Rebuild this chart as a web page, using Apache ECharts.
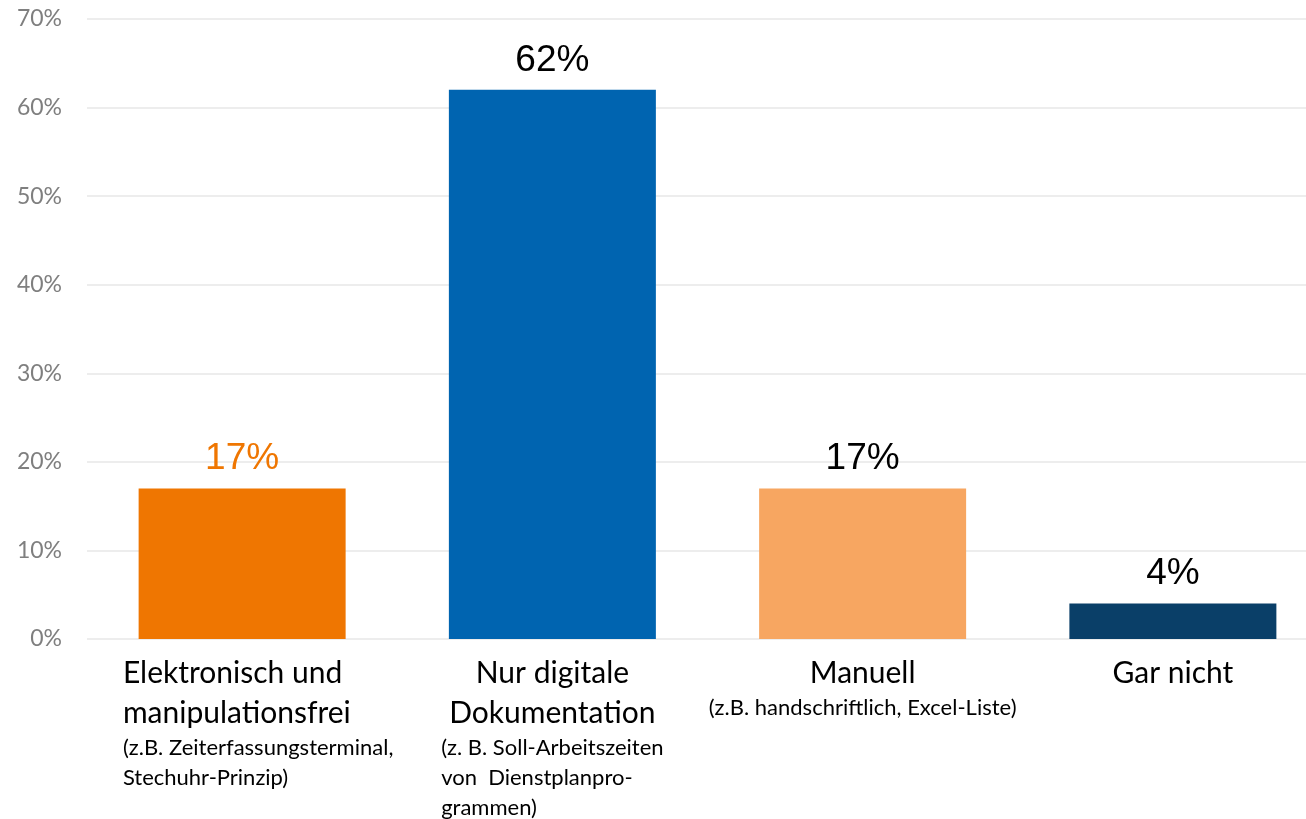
<!DOCTYPE html>
<html>
<head>
<meta charset="utf-8">
<script src="https://cdn.jsdelivr.net/npm/echarts@6/dist/echarts.min.js"></script>
<style>
  html, body { margin: 0; padding: 0; background: #fff; overflow: hidden; }
  /* plot area runs a little past the right edge, like the original */
  #chart { width: 1328px; height: 819px; }
</style>
</head>
<body>
<div id="chart"></div>
<script>
// chart data
var titles = [
  ["Elektronisch und", "manipulationsfrei"],
  ["Nur digitale", "Dokumentation"],
  ["Manuell"],
  ["Gar nicht"]
];
var subtitles = [
  ["(z.B. Zeiterfassungsterminal,", "Stechuhr-Prinzip)"],
  ["(z. B. Soll-Arbeitszeiten", "von  Dienstplanpro-", "grammen)"],
  ["(z.B. handschriftlich, Excel-Liste)"],
  []
];
var values = [17, 62, 17, 4];
var yTicks = [0, 10, 20, 30, 40, 50, 60, 70];

var barColors = ["#EF7601", "#0064B0", "#F7A661", "#0A3F68"];
var labelColors = ["#EF7601", "#000000", "#000000", "#000000"];

var chart = echarts.init(document.getElementById("chart"));

var categories = titles.map(function (t, i) { return "c" + i; });

chart.setOption({
  animation: false,
  grid: {
    left: 87,
    right: 0,
    top: 19,
    bottom: 180,
    containLabel: false
  },
  xAxis: {
    type: "category",
    data: categories.map(function (c, i) {
      // first label block sits a little right of its bar
      return i === 0 ? { value: c, textStyle: { padding: [0, 0, 0, 32] } } : c;
    }),
    axisLine: { show: false },
    axisTick: { show: false },
    axisLabel: {
      interval: 0,
      margin: 14,
      formatter: function (v, idx) {
        var tStyle = idx === 0 ? "tl" : "t";
        var lines = titles[idx].map(function (s) { return "{" + tStyle + "|" + s + "}"; });
        subtitles[idx].forEach(function (s) { lines.push("{s|" + s + "}"); });
        return lines.join("\n");
      },
      rich: {
        t: {
          fontFamily: "Lato",
          fontSize: 30,
          color: "#000",
          lineHeight: 40,
          align: "center"
        },
        tl: {
          fontFamily: "Lato",
          fontSize: 30,
          color: "#000",
          lineHeight: 40,
          align: "left"
        },
        s: {
          fontFamily: "Lato",
          fontSize: 22,
          color: "#000",
          lineHeight: 30,
          align: "left"
        }
      }
    }
  },
  yAxis: {
    type: "value",
    min: yTicks[0],
    max: yTicks[yTicks.length - 1],
    interval: 10,
    axisLine: { show: false },
    axisTick: { show: false },
    splitLine: { lineStyle: { color: "#EDEDED", width: 2 } },
    axisLabel: {
      margin: 25,
      fontFamily: "Lato",
      fontSize: 23,
      color: "#7F7F7F",
      formatter: function (v) { return v + "%"; }
    }
  },
  series: [{
    type: "bar",
    barWidth: 207,
    data: values.map(function (v, i) {
      return {
        value: v,
        itemStyle: { color: barColors[i] },
        label: { color: labelColors[i] }
      };
    }),
    label: {
      show: true,
      position: "top",
      distance: 11,
      fontFamily: "Liberation Sans",
      fontSize: 37,
      formatter: function (p) { return p.value + "%"; }
    }
  }]
});
</script>
</body>
</html>
